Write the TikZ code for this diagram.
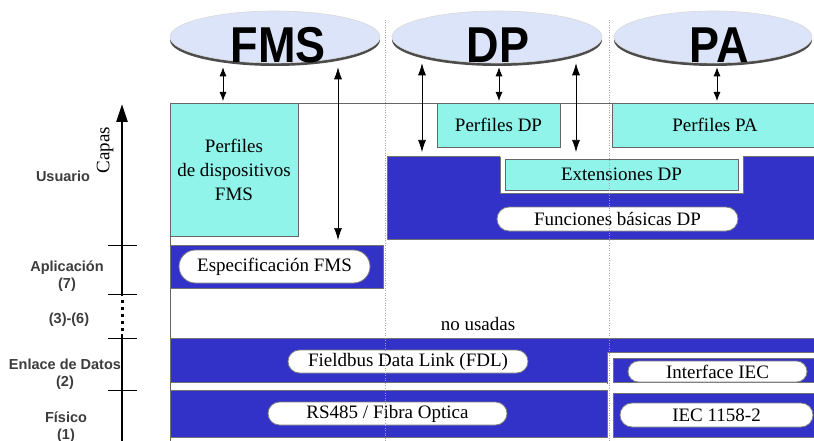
\documentclass[tikz,border=0pt]{standalone}
\usepackage{fontspec}
\setmainfont{Liberation Serif}
\setsansfont{Liberation Sans}
\usetikzlibrary{positioning, shapes.misc, shapes.geometric, arrows.meta}
\definecolor{fieldblue}{RGB}{50,50,200}
\definecolor{profcyan}{RGB}{144,244,234}
\definecolor{ellfill}{RGB}{220,228,250}
\definecolor{labelgray}{RGB}{60,60,60}
\tikzset{
  proto/.style={ellipse, fill=ellfill, draw=black!15, line width=0.6pt, inner sep=0},
  bigname/.style={font=\sffamily\bfseries\fontsize{45}{45}\selectfont, inner sep=0},
  layer/.style={rectangle, fill=fieldblue, draw=black!55, line width=1pt, inner sep=0, outer sep=0},
  profile/.style={rectangle, fill=profcyan, draw=black!60, line width=0.8pt, align=center, outer sep=0,
    font=\fontsize{19}{24}\selectfont},
  pill/.style={rounded rectangle, fill=white, draw=black!50, line width=0.8pt, inner sep=0, outer sep=0,
    font=\fontsize{19}{19}\selectfont},
  layername/.style={font=\sffamily\bfseries\fontsize{14.5}{17}\selectfont, text=labelgray, align=center},
  dblarrow/.style={{Latex[length=9pt,width=7pt]}-{Latex[length=9pt,width=7pt]}, line width=0.8pt},
  longarrow/.style={{Latex[length=12pt,width=8pt]}-{Latex[length=12pt,width=8pt]}, line width=0.7pt},
  notch/.style={draw=black!55, line width=1pt},
  separator/.style={draw=gray!70, line width=0.9pt, dash pattern=on 1pt off 1.5pt},
  tick/.style={line width=1pt},
}

\begin{document}
\begin{tikzpicture}[x=1pt, y=-1pt]
  \useasboundingbox (0,0) rectangle (814,441);

  % Frame
  \draw[black!60, line width=0.8pt] (818,103) -- (170,103) -- (170,441);

  % Profiles
  \foreach \cx/\rx in {275/105, 497/105, 713/99}
    \fill[black!70] (\cx,40) ellipse [x radius=\rx, y radius=26];
  \node[proto, minimum width=210, minimum height=52] (fmsell) at (275,37) {};
  \node[proto, minimum width=210, minimum height=52] (dpell) at (497,37) {};
  \node[proto, minimum width=198, minimum height=52] (paell) at (713,37) {};
  \node[bigname] (fmstxt) at (278,45) {\scalebox{1}[1.12]{FMS}};
  \node[bigname] (dptxt) at (498,45) {\scalebox{1}[1.12]{DP}};
  \node[bigname] (patxt) at (719,45) {\scalebox{1}[1.12]{PA}};

  % User layer
  \node[profile, minimum width=128, minimum height=133, anchor=north west] (fmsprof) at (170,103)
    {Perfiles\\de dispositivos\\FMS};
  \node[profile, minimum width=123, minimum height=44, anchor=north west] (dpprof) at (437,103) {Perfiles DP};
  \node[profile, minimum width=206, minimum height=44, anchor=north west] (paprof) at (612,103) {Perfiles PA};
  \node[layer, minimum width=431, minimum height=82, anchor=north west] (dpbase) at (387,157) {};
  \fill[white] (500,155) rectangle (743,193);
  \draw[notch] (500,157) -- (500,193) -- (743,193) -- (743,157);
  \node[profile, minimum width=233, minimum height=31] (extdp) at (621.5,174.5) {Extensiones DP};
  \node[pill, minimum width=241, minimum height=24] (dpbasic) at (617.5,219) {Funciones básicas DP};

  % Application layer
  \node[layer, minimum width=213, minimum height=43, anchor=north west] (fmsapp) at (170,245) {};
  \node[pill, minimum width=191, minimum height=33] (fmsspec) at (274.5,266.5) {Especificación FMS};
  \node[font=\fontsize{19}{19}\selectfont] (unused) at (478,324) {no usadas};

  % Data link layer
  \node[layer, minimum width=648, minimum height=44, anchor=north west] (linkband) at (170,338) {};
  \fill[white] (607,352) rectangle (818,386);
  \draw[notch] (607,384) -- (607,352) -- (818,352);
  \node[layer, minimum width=205, minimum height=24, anchor=north west] (iecbox) at (613,358) {};
  \node[pill, minimum width=240, minimum height=23] (fdl) at (408,361.5) {Fieldbus Data Link (FDL)};
  \node[pill, minimum width=179, minimum height=21] (iecif) at (717.5,371.5) {Interface IEC};

  % Physical layer
  \node[layer, minimum width=437, minimum height=47, anchor=north west] (physleft) at (170,390) {};
  \node[layer, minimum width=205, minimum height=44, anchor=north west] (physright) at (613,393) {};
  \node[pill, minimum width=239, minimum height=23] (rsfibra) at (387.5,413.5) {RS485 / Fibra Optica};
  \node[pill, minimum width=193, minimum height=24] (iec1158) at (716.5,415) {IEC 1158-2};

  % Arrows
  \draw[dblarrow, shorten <=4pt, shorten >=2pt] (fmsell.south -| 223,0) -- (fmsprof.north -| 223,0);
  \draw[longarrow, shorten <=4pt, shorten >=5pt] (fmsell.south -| 338,0) -- (fmsapp.north -| 338,0);
  \draw[longarrow, shorten >=5pt] (dpell.south -| 422,0) -- (dpbase.north -| 422,0);
  \draw[dblarrow, shorten <=4pt, shorten >=2pt] (dpell.south -| 499,0) -- (dpprof.north -| 499,0);
  \draw[longarrow, shorten >=5pt] (dpell.south -| 576,0) -- (dpbase.north -| 576,0);
  \draw[dblarrow, shorten <=4pt, shorten >=2pt] (paell.south -| 717,0) -- (paprof.north -| 717,0);

  % Separators
  \draw[separator] (385,20) -- (385,441);
  \draw[separator] (609,20) -- (609,441);

  % Layer axis
  \coordinate (axtop) at (122,104);
  \coordinate (axgap) at (122,296);
  \draw[line width=2.6pt, -{Triangle[length=18pt, width=11pt]}] (axgap) -- (axtop);
  \draw[line width=3pt, dash pattern=on 3pt off 4pt] (122,300) -- (122,331);
  \draw[line width=2.6pt] (122,334) -- (122,441);
  \foreach \ty in {245,294,338,390}
    \draw[tick] (108,\ty) -- (137,\ty);
  \node[rotate=90, font=\fontsize{19}{19}\selectfont] (capas) at (105,150) {Capas};

  % Layer names
  \node[layername] (usuario) at (63,176) {Usuario};
  \node[layername] (aplic) at (67,276) {Aplicación\\(7)};
  \node[layername] (unusedlay) at (69,320) {(3)-(6)};
  \node[layername] (enlace) at (65,374) {Enlace de Datos\\(2)};
  \node[layername] (fisico) at (66,427) {Físico\\(1)};

\end{tikzpicture}
\end{document}
